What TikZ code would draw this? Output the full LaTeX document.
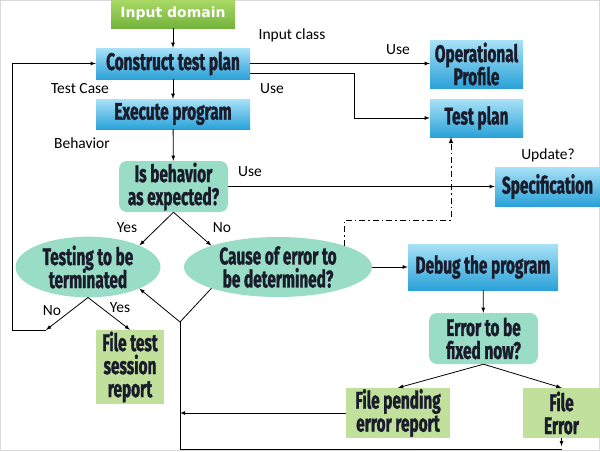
\documentclass[tikz,border=0pt]{standalone}
\usepackage{fontspec}
\setmainfont{Carlito}
\newfontfamily\boxfont[FakeStretch=0.64, BoldFeatures={FakeBold=1.3}]{Fira Sans}
\newfontfamily\headfont{DejaVu Sans}
\usetikzlibrary{shapes.geometric}
\definecolor{bluetop}{HTML}{A9E1F7}
\definecolor{bluebot}{HTML}{2AA2D8}
\definecolor{tealfill}{HTML}{99DDC6}
\definecolor{greenfill}{HTML}{C0E09C}
\definecolor{greentop}{HTML}{A9D865}
\definecolor{greenbot}{HTML}{74B43C}
\definecolor{boxtext}{HTML}{1A1C2C}
\begin{document}
\begin{tikzpicture}[x=1pt, y=-1pt,
    box/.style ={inner sep=0pt, align=center, text=boxtext,
      font=\boxfont\bfseries\fontsize{24}{25}\selectfont},
    bluebox/.style ={box, top color=bluetop, bottom color=bluebot},
    decision/.style ={box, fill=tealfill, rounded corners=8pt},
    oval/.style ={box, ellipse, fill=tealfill},
    report/.style ={box, fill=greenfill},
    lbl/.style ={font=\fontsize{15.5}{17}\selectfont, text=black},
    arr/.style ={-latex, line width=0.8pt, black}]
   \useasboundingbox (0,0) rectangle (600,451);
   \draw[black!15] (0.5,0.5) rectangle (599.5,450.5);

   \node[box, top color=greentop, bottom color=greenbot, text=white,
     minimum width=124pt, minimum height=28pt,
     font=\headfont\bfseries\fontsize{14}{16}\selectfont] (input) at (173,14) {Input domain};
   \node[bluebox, minimum width=154pt, minimum height=31pt] (construct) at (173,63.5) {Construct test plan};
   \node[bluebox, minimum width=154pt, minimum height=30pt] (execute) at (173,114) {Execute program};
   \node[decision, minimum width=109pt, minimum height=51pt] (isbeh) at (173.5,186.5) {Is behavior\\[-2pt] as expected?};
   \node[oval, minimum width=145pt, minimum height=60pt] (testing) at (88,267) {Testing to be\\[-2pt] terminated};
   \node[oval, minimum width=188pt, minimum height=60pt] (cause) at (278,267) {Cause of error to\\[-2pt] be determined?};
   \node[bluebox, minimum width=150pt, minimum height=46pt] (debug) at (483,267) {Debug the program};
   \node[decision, minimum width=109pt, minimum height=51pt] (errfix) at (483.5,338.5) {Error to be\\[-2pt] fixed now?};
   \node[report, minimum width=104pt, minimum height=50pt] (fpend) at (398,413) {File pending\\[-2pt] error report};
   \node[report, minimum width=77pt, minimum height=50pt] (ferr) at (561.5,413) {File\\[-2pt] Error};
   \node[report, minimum width=68pt, minimum height=74pt] (ftest) at (130,367) {File test\\[-2pt] session\\[-2pt] report};
   \node[bluebox, minimum width=93pt, minimum height=48pt] (opprof) at (476.5,64) {Operational\\[-2pt] Profile};
   \node[bluebox, minimum width=93pt, minimum height=38pt] (tplan) at (476.5,118) {Test plan};
   \node[bluebox, minimum width=105pt, minimum height=39pt] (spec) at (547.5,186.5) {Specification};

   \node[lbl] (lblinput) at (292,35) {Input class};
   \node[lbl] (lbluse1) at (398,50) {Use};
   \node[lbl] (lbltestcase) at (80,89) {Test Case};
   \node[lbl] (lbluse2) at (272,89) {Use};
   \node[lbl] (lblbeh) at (82,143) {Behavior};
   \node[lbl] (lbluse3) at (250,172) {Use};
   \node[lbl] (lblupdate) at (548,155) {Update?};
   \node[lbl] (lblyes1) at (127,228) {Yes};
   \node[lbl] (lblno1) at (222,228) {No};
   \node[lbl] (lblno2) at (52,311) {No};
   \node[lbl] (lblyes2) at (120,308) {Yes};

   \coordinate (tbend) at (354,73.5);
   \coordinate (ddturn) at (451,220);
   \coordinate (nobend) at (46,330);
   \coordinate (loopc) at (12,330);
   \coordinate (junc) at (180,322);
   \coordinate (botl) at (180,449);
   \coordinate (botr) at (561.5,449);

   \draw[arr] (input) to (construct);
   \draw[arr] (construct) to (execute);
   \draw[arr] (execute) to (isbeh);
   \draw[arr] (isbeh) to (spec);
   \draw[arr] (construct.east) to (construct.east -| opprof.west);
   \draw[arr] (construct.east |- tbend) -- (tbend) |- (tplan.west);
   \draw[arr, line width=1pt, dash pattern=on 6pt off 3pt on 1.5pt off 3pt] (cause.north east) |- (ddturn) -- (ddturn |- tplan.south);
   \draw[arr] (isbeh.south) to (testing.north east);
   \draw[arr] (isbeh.south) to (cause.north west);
   \draw[arr] (testing.south) to (nobend);
   \draw[arr] (nobend) -- (loopc) |- (construct.west);
   \draw[arr] (testing.south) to (ftest.north);
   \draw[line width=0.8pt] (cause.south west) to (junc);
   \draw[arr] (junc) to (testing.south east);
   \draw[arr] (cause.east) to (debug.west);
   \draw[arr] (debug) to (errfix);
   \draw[arr] (errfix.south) to (fpend.north);
   \draw[arr] (errfix.south) to (ferr.north);
   \draw[arr] (ferr.south) -- ([yshift=-8pt]ferr.south);
   \draw[line width=0.8pt] (botr) -- (botl) -- (junc);
   \draw[arr] (fpend.west) to (fpend.west -| junc);
 \end{tikzpicture}
\end{document}
